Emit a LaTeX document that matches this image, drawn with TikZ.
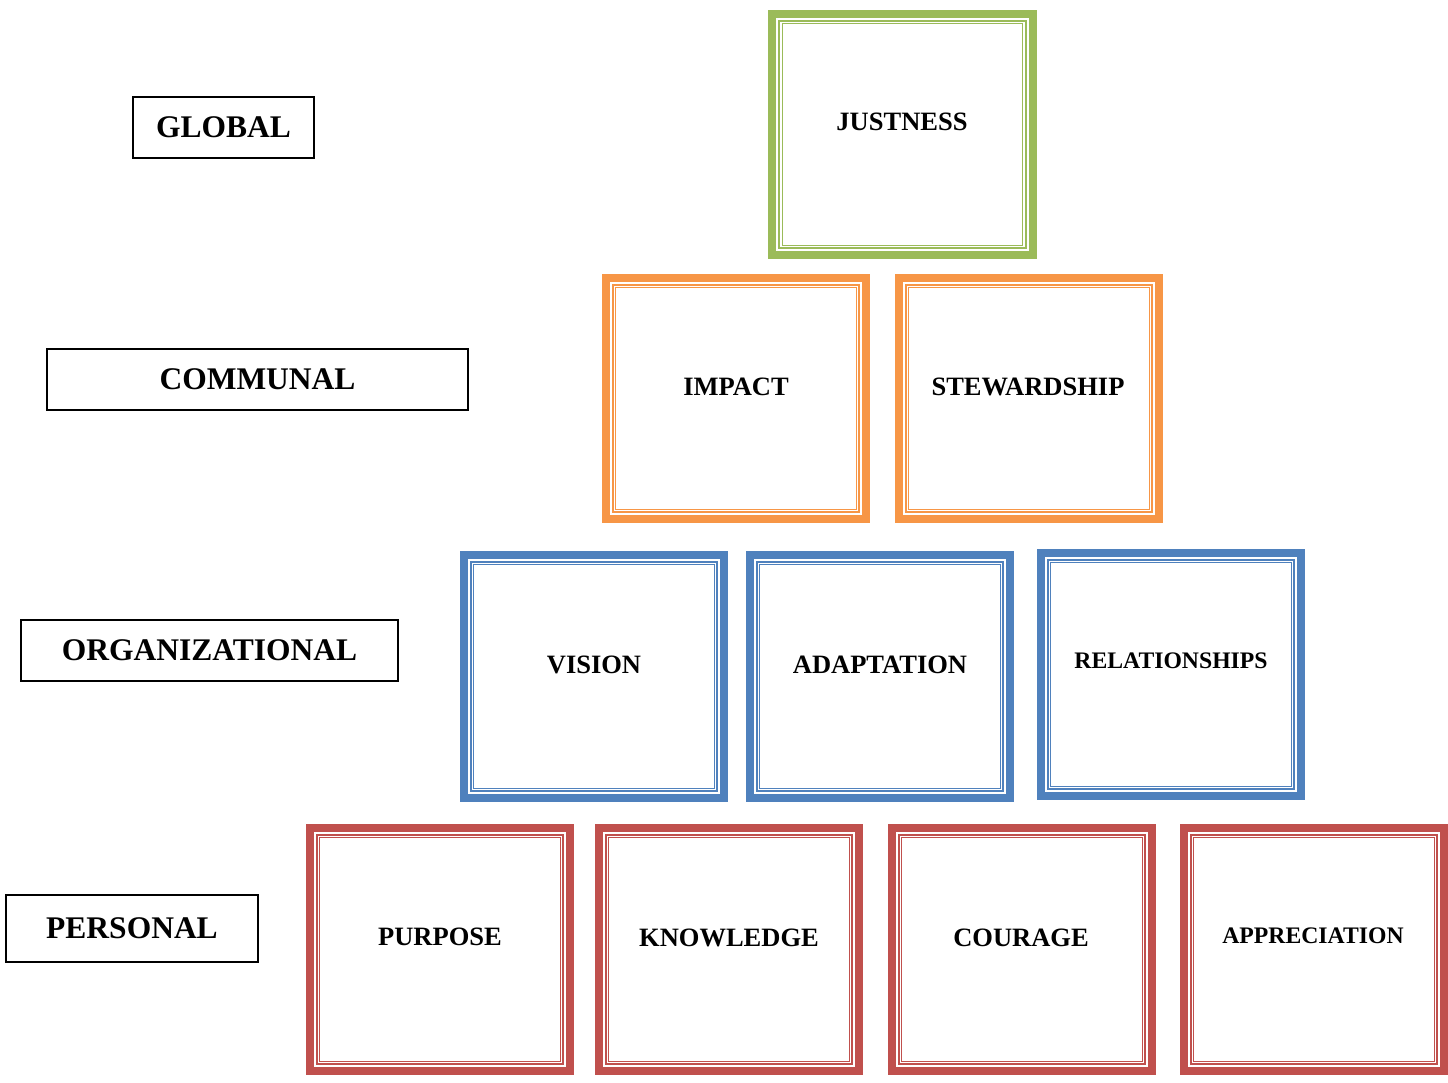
\documentclass[tikz,border=0pt]{standalone}
\usepackage{fontspec}
\setmainfont{Liberation Serif}
\definecolor{cgreen}{HTML}{9BBB59}
\definecolor{corange}{HTML}{F79646}
\definecolor{cblue}{HTML}{4F81BD}
\definecolor{cred}{HTML}{C0504D}
\tikzset{
  x=1pt, y=-1pt,
  levelbox/.style={draw=black, line width=1.8pt, inner sep=0pt, minimum height=61pt,
    font=\fontsize{31.5}{36}\selectfont\bfseries, text height=20.9pt, text depth=0pt},
  cell/.style={inner sep=0pt, minimum width=268pt, minimum height=249pt},
  celltext/.style={inner sep=0pt, font=\fontsize{26.5}{30}\selectfont\bfseries, text height=17.5pt, text depth=0pt},
  smalltext/.style={inner sep=0pt, font=\fontsize{23.7}{28}\selectfont\bfseries, text height=15.7pt, text depth=0pt},
}
\newcommand{\tribox}[2]{%
  \draw[#2, line width=8pt] ([shift={(4,4)}]#1.north west) rectangle ([shift={(-4,-4)}]#1.south east);
  \draw[#2, line width=1.9pt] ([shift={(10.9,10.9)}]#1.north west) rectangle ([shift={(-10.9,-10.9)}]#1.south east);
  \draw[#2, line width=1.2pt] ([shift={(13.9,13.9)}]#1.north west) rectangle ([shift={(-13.9,-13.9)}]#1.south east);
}
\begin{document}
\begin{tikzpicture}
\useasboundingbox[fill=white] (0,0) rectangle (1448,1082);
% level labels
\node[levelbox, minimum width=181pt] (global) at (223.5,127.5) {GLOBAL};
\node[levelbox, minimum width=421pt] (communal) at (257.5,379.5) {COMMUNAL};
\node[levelbox, minimum width=377pt] (organizational) at (209.5,650.5) {ORGANIZATIONAL};
\node[levelbox, minimum width=252pt, minimum height=67pt] (personal) at (132,928.5) {PERSONAL};
% cells
\node[cell] (justness) at (902.5,134.5) {};
\node[cell] (impact) at (736,398.5) {};
\node[cell] (stewardship) at (1029,398.5) {};
\node[cell, minimum height=251pt] (vision) at (594,676.5) {};
\node[cell, minimum height=251pt] (adaptation) at (880,676.5) {};
\node[cell, minimum height=251pt] (relationships) at (1171,674.5) {};
\node[cell, minimum height=251pt] (purpose) at (440,949.5) {};
\node[cell, minimum height=251pt] (knowledge) at (729,949.5) {};
\node[cell, minimum height=251pt] (courage) at (1022,949.5) {};
\node[cell, minimum height=251pt] (appreciation) at (1314,949.5) {};
\tribox{justness}{cgreen}
\tribox{impact}{corange}
\tribox{stewardship}{corange}
\tribox{vision}{cblue}
\tribox{adaptation}{cblue}
\tribox{relationships}{cblue}
\tribox{purpose}{cred}
\tribox{knowledge}{cred}
\tribox{courage}{cred}
\tribox{appreciation}{cred}
% cell texts
\node[celltext] (justness-t) at (902,122) {JUSTNESS};
\node[celltext] (impact-t) at (736,387) {IMPACT};
\node[celltext] (stewardship-t) at (1028,387) {STEWARDSHIP};
\node[celltext] (vision-t) at (594,665) {VISION};
\node[celltext] (adaptation-t) at (880,665) {ADAPTATION};
\node[smalltext] (relationships-t) at (1171,661) {RELATIONSHIPS};
\node[celltext] (purpose-t) at (440,937) {PURPOSE};
\node[celltext] (knowledge-t) at (729,938) {KNOWLEDGE};
\node[celltext] (courage-t) at (1021,938) {COURAGE};
\node[smalltext] (appreciation-t) at (1313,936) {APPRECIATION};
\end{tikzpicture}
\end{document}
